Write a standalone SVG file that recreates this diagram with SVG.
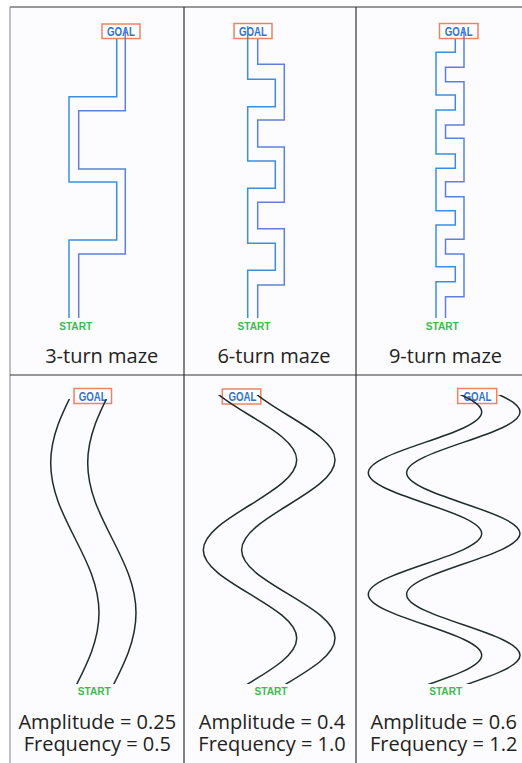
<svg xmlns="http://www.w3.org/2000/svg" width="522" height="763" viewBox="0 0 522 763">
<style>
.frame{stroke:#333;stroke-width:1.2;fill:none}
.goalbox{fill:#fff;stroke:#f08165;stroke-width:1.5}
.goal{font-family:"Liberation Sans",Arial,sans-serif;font-weight:bold;font-size:12px;fill:#2f72c8;text-anchor:middle}
.start{font-family:"Liberation Sans",Arial,sans-serif;font-weight:bold;font-size:11.5px;fill:#3dba4c;text-anchor:middle}
.cap{font-family:"Open Sans","Noto Sans",sans-serif;font-size:20px;fill:#222;text-anchor:middle}
.wl{fill:none;stroke:#3b8de0;stroke-width:1.5}
.wr{fill:none;stroke:#5f7fdc;stroke-width:1.5}
.curve{fill:none;stroke:#1f2b2f;stroke-width:1.5}
</style>
<defs>
<clipPath id="c4"><rect x="10" y="399" width="174" height="285"/></clipPath>
<clipPath id="c5"><rect x="184" y="395" width="172" height="289"/></clipPath>
<clipPath id="c6"><rect x="356" y="395" width="166" height="289"/></clipPath>
</defs>
<rect x="0" y="0" width="522" height="763" fill="#fff"/>
<rect x="10" y="7" width="512" height="756" fill="#fcfcfe"/>
<g id="frame">
<line x1="10" y1="7" x2="522" y2="7" class="frame"/>
<line x1="10" y1="7" x2="10" y2="763" stroke="#999" stroke-width="1.2"/>
<line x1="184" y1="7" x2="184" y2="763" class="frame"/>
<line x1="356" y1="7" x2="356" y2="763" class="frame"/>
<line x1="10" y1="375" x2="522" y2="375" class="frame"/>
</g>

<g id="maze3">
<g id="goal1"><rect x="102" y="24" width="38" height="14.5" class="goalbox"/><text x="121" y="35.8" class="goal" textLength="28" lengthAdjust="spacingAndGlyphs">GOAL</text></g>
<g id="walls1">
<path class="wl" d="M116.7,39 V96.7 H69 V182 H116.7 V240 H69 V318"/>
<path class="wr" d="M125.3,29 V110.7 H78.7 V169 H125.3 V254 H78.7 V318"/>
</g>
<g id="start1"><text x="75.7" y="330" class="start" textLength="33" lengthAdjust="spacingAndGlyphs">START</text></g>
<text x="101.7" y="363" class="cap">3-turn maze</text>
</g>

<g id="maze6">
<g id="goal2"><rect x="234" y="23.5" width="38" height="15" class="goalbox"/><text x="253" y="35.8" class="goal" textLength="28" lengthAdjust="spacingAndGlyphs">GOAL</text></g>
<g id="walls2">
<path class="wl" d="M247.7,26 V79.3 H275.3 V106.7 H247.7 V161 H275.3 V188.3 H247.7 V243.3 H275.3 V270.3 H247.7 V318"/>
<path class="wr" d="M257.7,39 V64.3 H284.3 V120 H257.7 V147 H284.3 V202.3 H257.7 V228.7 H284.3 V285 H257.7 V318"/>
</g>
<g id="start2"><text x="254" y="330" class="start" textLength="33" lengthAdjust="spacingAndGlyphs">START</text></g>
<text x="274" y="363" class="cap">6-turn maze</text>
</g>

<g id="maze9">
<g id="goal3"><rect x="439.5" y="23.5" width="38.5" height="15" class="goalbox"/><text x="458.7" y="35.8" class="goal" textLength="28" lengthAdjust="spacingAndGlyphs">GOAL</text></g>
<g id="walls3">
<path class="wl" d="M455.3,39 V52.3 H436 V95 H455.3 V110 H436 V154 H455.3 V168.3 H436 V210.7 H455.3 V225 H436 V266.7 H455.3 V281.7 H436 V318"/>
<path class="wr" d="M464,28 V67.3 H445.5 V81.7 H464 V125 H445.5 V138.3 H464 V181.7 H445.5 V196.7 H464 V239.3 H445.5 V254 H464 V296.7 H445.5 V318"/>
</g>
<g id="start3"><text x="442.3" y="330" class="start" textLength="33" lengthAdjust="spacingAndGlyphs">START</text></g>
<text x="445.5" y="363" class="cap">9-turn maze</text>
</g>

<g id="wave1">
<g id="goal4"><rect x="74" y="388.5" width="37.5" height="15" class="goalbox"/><text x="92.7" y="400.8" class="goal" textLength="28" lengthAdjust="spacingAndGlyphs">GOAL</text></g>
<g id="curves4" clip-path="url(#c4)">
<path class="curve" d="M99,313 C99,368 50.7,408 50.7,463 C50.7,518 99,558 99,613 C99,668 50.7,708 50.7,763"/>
<path class="curve" d="M136,313 C136,368 87.7,408 87.7,463 C87.7,518 136,558 136,613 C136,668 87.7,708 87.7,763"/>
</g>
<g id="start4"><text x="94.3" y="694.5" class="start" textLength="33" lengthAdjust="spacingAndGlyphs">START</text></g>
<text x="97.3" y="729" class="cap">Amplitude = 0.25</text>
<text x="97.3" y="751" class="cap">Frequency = 0.5</text>
</g>

<g id="wave2">
<g id="goal5"><rect x="222.3" y="389" width="38.5" height="15" class="goalbox"/><text x="242.5" y="401.3" class="goal" textLength="28" lengthAdjust="spacingAndGlyphs">GOAL</text></g>
<g id="curves5" clip-path="url(#c5)">
<path class="curve" d="M203.3,371 C203.3,403.4 296.7,427.6 296.7,460 C296.7,492.4 203.3,517.6 203.3,550 C203.3,582.4 296.7,606 296.7,638.3 C296.7,670.6 203.3,694.7 203.3,727"/>
<path class="curve" d="M241.6,371 C241.6,403.4 335,427.6 335,460 C335,492.4 241.6,517.6 241.6,550 C241.6,582.4 335,606 335,638.3 C335,670.6 241.6,694.7 241.6,727"/>
</g>
<g id="start5"><text x="271" y="695" class="start" textLength="33" lengthAdjust="spacingAndGlyphs">START</text></g>
<text x="272" y="729" class="cap">Amplitude = 0.4</text>
<text x="272" y="751" class="cap">Frequency = 1.0</text>
</g>

<g id="wave3">
<g id="goal6"><rect x="457.7" y="388.5" width="39" height="15" class="goalbox"/><text x="477.5" y="400.8" class="goal" textLength="28" lengthAdjust="spacingAndGlyphs">GOAL</text></g>
<g id="curves6" clip-path="url(#c6)">
<path class="curve" d="M368.3,351.2 C368.3,373.3 481.7,389.9 481.7,412 C481.7,434.1 368.3,450.7 368.3,472.8 C368.3,494.9 481.7,511.5 481.7,533.6 C481.7,555.7 368.3,572.3 368.3,594.4 C368.3,616.5 481.7,633.1 481.7,655.2 C481.7,677.3 368.3,693.9 368.3,716"/>
<path class="curve" d="M406.6,351.2 C406.6,373.3 520,389.9 520,412 C520,434.1 406.6,450.7 406.6,472.8 C406.6,494.9 520,511.5 520,533.6 C520,555.7 406.6,572.3 406.6,594.4 C406.6,616.5 520,633.1 520,655.2 C520,677.3 406.6,693.9 406.6,716"/>
</g>
<g id="start6"><text x="445.7" y="695" class="start" textLength="33" lengthAdjust="spacingAndGlyphs">START</text></g>
<text x="443.7" y="729" class="cap">Amplitude = 0.6</text>
<text x="443.7" y="751" class="cap">Frequency = 1.2</text>
</g>
</svg>
